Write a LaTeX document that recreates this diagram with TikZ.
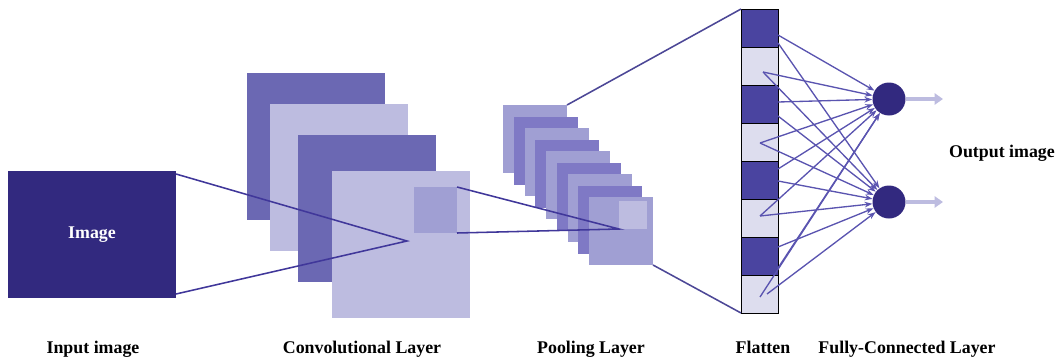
\documentclass[tikz,border=0pt]{standalone}
\usepackage{fontspec}
\setmainfont{Liberation Serif}
\usepackage{xcolor}
\usepackage{tikz}
\usetikzlibrary{scopes,calc,arrows.meta}

\definecolor{imgdark}{HTML}{32297F}
\definecolor{mapmid}{HTML}{6B68B3}
\definecolor{maplight}{HTML}{BDBCE0}
\definecolor{filtcol}{HTML}{A09FD3}
\definecolor{poolmid}{HTML}{7F79C5}
\definecolor{celldark}{HTML}{4A44A0}
\definecolor{celllight}{HTML}{DDDDEE}
\definecolor{wirecol}{HTML}{5A54B0}
\definecolor{linkcol}{HTML}{40379A}

% one drawing unit is one pixel
\newcommand\pxl{0.025cm}

\begin{document}
\begin{tikzpicture}[
      x=0.025cm, y=-0.025cm,
      sheet/.style={rectangle,inner sep=0pt,outer sep=0pt,anchor=north west},
      conv/.style={sheet,minimum width=138*\pxl,minimum height=147*\pxl},
      pool/.style={sheet,minimum width=64*\pxl,minimum height=68*\pxl},
      cell/.style={sheet,draw=black,line width=0.5pt,minimum width=37*\pxl,minimum height=38*\pxl},
      neuron/.style={circle,fill=imgdark,minimum size=33*\pxl,inner sep=0pt},
      link/.style={draw=linkcol,line width=1.1pt},
      wire/.style={draw=wirecol,line width=0.95pt,-{Stealth[length=5.5pt,width=4pt]}},
      outarrow/.style={draw=maplight,line width=2.6pt,-{Triangle[length=6pt,width=8pt]}},
      lbl/.style={font=\fontsize{12.7}{14}\selectfont\bfseries},
      caption/.style={lbl,anchor=base}
]
      \useasboundingbox (0,0) rectangle (1061,362);

      % input
      \node[sheet,fill=imgdark,text=white,font=\fontsize{12.7}{14}\selectfont\bfseries,
            minimum width=168*\pxl,minimum height=127*\pxl] (input) at (8,171) {Image};

      % convolution maps
      \node[conv,fill=mapmid] (conv1) at (247,73) {};
      \node[conv,fill=maplight] (conv2) at (270,104) {};
      \node[conv,fill=mapmid] (conv3) at (298,135) {};
      \node[conv,fill=maplight] (conv4) at (332,171) {};
      \node[sheet,fill=filtcol,minimum width=43*\pxl,minimum height=46*\pxl] (filter) at (414,187) {};

      \coordinate (cpeak) at (407,241);
      {[link]
          \draw ($(input.north east)+(0,3)$) -- (cpeak) -- ($(input.south east)+(0,-4)$);
      }

      % pooling maps
      \foreach \i in {1,...,9} {
          \ifodd\i \def\pc{filtcol}\else \def\pc{poolmid}\fi
          \node[pool,fill=\pc] (pool\i) at ({503+10.75*(\i-1)},{105+11.5*(\i-1)}) {};
      }
      \node[sheet,fill=maplight,minimum width=28*\pxl,minimum height=28*\pxl] (pwin) at (619,201) {};

      {[link]
          \draw (filter.north east) -- (pwin.south west) -- (filter.south east);
      }

      % flatten
      \foreach \i in {0,...,7} {
          \ifodd\i \def\fc{celllight}\else \def\fc{celldark}\fi
          \node[cell,fill=\fc] (f\i) at (741,{9+38*\i}) {};
      }

      \draw[link,draw=wirecol!85!black] (pool1.north east) -- (f0.north west);
      \draw[link,draw=wirecol!85!black] (pool9.south east) -- (f7.south west);

      % fully connected
      \node[neuron] (n1) at (889,99) {};
      \node[neuron] (n2) at (889,202) {};

      \foreach \c/\dx/\dy/\n in {0/0/26/n1, 0/0/34/n2, 1/-15/25/n1, 1/-15/25/n2,
                                 2/0/17/n1, 2/0/31/n2, 3/-18/20/n1, 3/-18/20/n2,
                                 4/0/8/n1, 4/0/20/n2, 5/-18/17/n1, 5/-18/17/n2,
                                 6/0/31/n1, 6/0/10/n2, 7/-18/22/n1, 7/-11/19/n2} {
          \path ($(f\c.north east)+(\dx,\dy)$) coordinate (src);
          \draw[wire] (src) -- (\n);
      }

      \coordinate (o1) at (943,99);
      \coordinate (o2) at (943,202);
      \draw[outarrow] (n1.east) -- (o1);
      \draw[outarrow] (n2.east) -- (o2);

      \node[lbl] (outlbl) at (1002,153) {Output image};

      % captions
      \node[caption] (cin) at (93,353) {Input image};
      \node[caption] (cconv) at (362,353) {Convolutional Layer};
      \node[caption] (cpool) at (591,353) {Pooling Layer};
      \node[caption] (cflat) at (763,353) {Flatten};
      \node[caption] (cfc) at (907,353) {Fully-Connected Layer};
\end{tikzpicture}
\end{document}
